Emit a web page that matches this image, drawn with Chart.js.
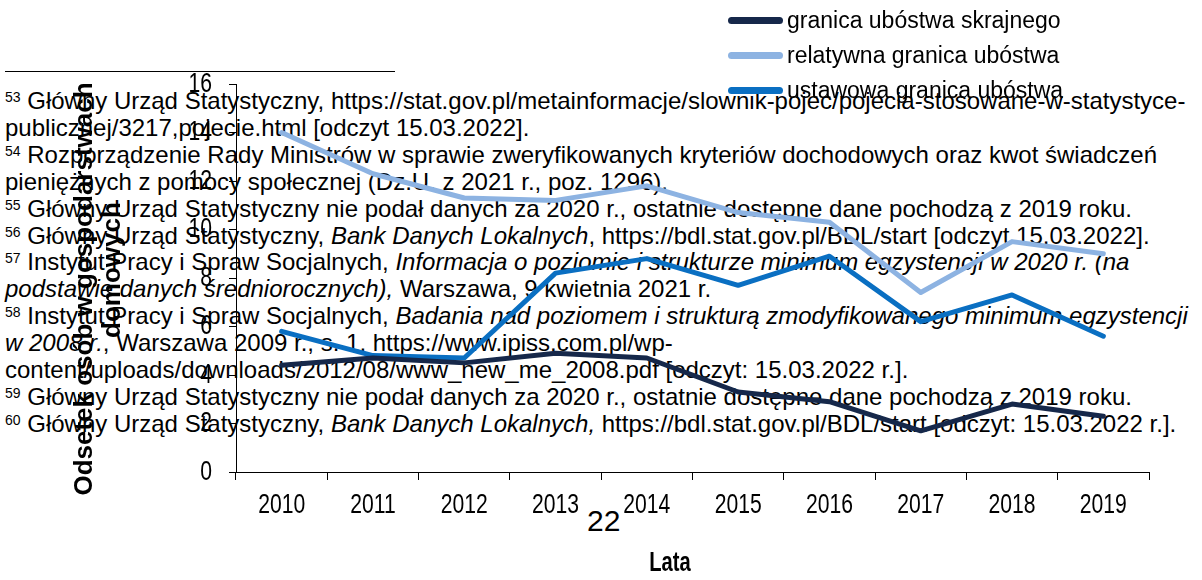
<!DOCTYPE html>
<html lang="pl">
<head>
<meta charset="utf-8">
<title>Granice ubóstwa 2010-2019</title>
<script src="https://cdn.jsdelivr.net/npm/chart.js@4.4.1/dist/chart.umd.min.js"></script>
<style>
    html, body { margin: 0; padding: 0; background: #fff; }
    #wrap { position: relative; width: 1202px; height: 580px; overflow: hidden; }
    #rule { position: absolute; left: 5px; top: 71px; width: 390px; border-top: 1px solid #000; }
    #notes {
        position: absolute; left: 5px; top: 88px;
        font: 24px "Liberation Sans", Arial, sans-serif;
        line-height: 26.9px; white-space: nowrap; color: #000;
    }
    #notes sup { font-size: 14px; line-height: 0; vertical-align: baseline; position: relative; top: -7px; }
    #page { position: absolute; left: 587px; top: 506px; font: 30px/30px "Liberation Sans", Arial, sans-serif; }
    #chartBox { position: absolute; left: 0; top: 0; width: 1202px; height: 580px; }
    #legend { position: absolute; left: 728px; top: 3px; font: 23px "Liberation Sans", Arial, sans-serif; }
    #legend div { height: 35px; display: flex; align-items: center; }
    #legend span.swatch { display: inline-block; width: 55px; height: 7px; border-radius: 3.5px; margin-right: 4px; }
</style>
</head>
<body>
<div id="wrap">
    <div id="rule"></div>
    <div id="notes">
        <sup>53</sup> Główny Urząd Statystyczny, https://stat.gov.pl/metainformacje/slownik-pojec/pojecia-stosowane-w-statystyce-<br>
        publicznej/3217,pojecie.html [odczyt 15.03.2022].<br>
        <sup>54</sup> Rozporządzenie Rady Ministrów w sprawie zweryfikowanych kryteriów dochodowych oraz kwot świadczeń<br>
        pieniężnych z pomocy społecznej (Dz.U. z 2021 r., poz. 1296).<br>
        <sup>55</sup> Główny Urząd Statystyczny nie podał danych za 2020 r., ostatnie dostępne dane pochodzą z 2019 roku.<br>
        <sup>56</sup> Główny Urząd Statystyczny, <i>Bank Danych Lokalnych</i>, https://bdl.stat.gov.pl/BDL/start [odczyt 15.03.2022].<br>
        <sup>57</sup> Instytut Pracy i Spraw Socjalnych, <i>Informacja o poziomie i strukturze minimum egzystencji w 2020 r. (na</i><br>
        <i>podstawie danych średniorocznych),</i> Warszawa, 9 kwietnia 2021 r.<br>
        <sup>58</sup> Instytut Pracy i Spraw Socjalnych, <i>Badania nad poziomem i strukturą zmodyfikowanego minimum egzystencji</i><br>
        <i>w 2008 r.</i>, Warszawa 2009 r., s. 1, https://www.ipiss.com.pl/wp-<br>
        content/uploads/downloads/2012/08/www_new_me_2008.pdf [odczyt: 15.03.2022 r.].<br>
        <sup>59</sup> Główny Urząd Statystyczny nie podał danych za 2020 r., ostatnie dostępne dane pochodzą z 2019 roku.<br>
        <sup>60</sup> Główny Urząd Statystyczny, <i>Bank Danych Lokalnych,</i> https://bdl.stat.gov.pl/BDL/start [odczyt: 15.03.2022 r.].
    </div>
    <div id="page">22</div>
    <div id="chartBox"><canvas id="povertyChart" width="1202" height="580"></canvas></div>
    <div id="legend"></div>
</div>

<script>
    // Data
    const years = ['2010', '2011', '2012', '2013', '2014', '2015', '2016', '2017', '2018', '2019'];
    const skrajne = [4.4, 4.7, 4.5, 4.9, 4.7, 3.3, 2.9, 1.7, 2.8, 2.3];
    const relatywna = [14.0, 12.3, 11.3, 11.2, 11.8, 10.7, 10.3, 7.4, 9.5, 9.0];
    const ustawowa = [5.8, 4.8, 4.7, 8.2, 8.8, 7.7, 8.9, 6.2, 7.3, 5.6];
    const seriesNames = ['granica ubóstwa skrajnego', 'relatywna granica ubóstwa', 'ustawowa granica ubóstwa'];
    const seriesColors = ['#16284a', '#8db3e2', '#0a6fc2'];
    const yTitle = ['Odsetek osób w gospodarstwach', 'domowych'];
    const xTitle = 'Lata';

    const sans = '"Liberation Sans", Arial, sans-serif';
    const squeeze = 0.755; // the chart's own texts are drawn tall and narrow

    function drawSqueezed(ctx, text, x, y, sx) {
        ctx.save();
        ctx.translate(x, y);
        ctx.scale(sx, 1);
        ctx.fillText(text, 0, 0);
        ctx.restore();
    }

    // Tick labels and axis titles, drawn by hand
    const chartTexts = {
        id: 'chartTexts',
        afterDraw(chart) {
            const ctx = chart.ctx;
            const xs = chart.scales.x;
            const ys = chart.scales.y;
            ctx.save();
            ctx.fillStyle = '#000';
            ctx.font = '28px ' + sans;
            ctx.textBaseline = 'middle';
            ctx.textAlign = 'center';
            xs.ticks.forEach(function (t, i) {
                drawSqueezed(ctx, xs.getLabelForValue(t.value), xs.getPixelForTick(i), xs.top + 33, squeeze);
            });
            ctx.textAlign = 'right';
            ys.ticks.forEach(function (t, i) {
                drawSqueezed(ctx, String(t.value), ys.right - 24, ys.getPixelForTick(i), squeeze);
            });

            ctx.textAlign = 'center';
            ctx.font = 'bold 28px ' + sans;
            drawSqueezed(ctx, xTitle, 670, 563, 0.72);

            ctx.textBaseline = 'alphabetic';
            ctx.font = 'bold 26px ' + sans;
            ctx.save();
            ctx.translate(92, 289);
            ctx.rotate(-Math.PI / 2);
            ctx.fillText(yTitle[0], 0, 0);
            ctx.restore();
            ctx.save();
            ctx.translate(120, 270);
            ctx.rotate(-Math.PI / 2);
            ctx.fillText(yTitle[1], 0, 0);
            ctx.restore();
            ctx.restore();
        }
    };

    const datasets = [skrajne, relatywna, ustawowa].map(function (values, i) {
        return {
            label: seriesNames[i],
            data: values,
            borderColor: seriesColors[i],
            backgroundColor: seriesColors[i],
            borderWidth: 5,
            pointRadius: 0,
            tension: 0,
            borderCapStyle: 'round',
            borderJoinStyle: 'round'
        };
    });

    new Chart(document.getElementById('povertyChart'), {
        type: 'line',
        data: { labels: years, datasets: datasets },
        options: {
            responsive: false,
            animation: false,
            layout: { padding: { top: 84, right: 53, left: 0, bottom: 0 } },
            plugins: {
                legend: { display: false },
                tooltip: { enabled: false }
            },
            scales: {
                x: {
                    offset: true,
                    grid: { offset: true, drawOnChartArea: false, color: '#000', tickLength: 8 },
                    border: { color: '#000', width: 1 },
                    ticks: { display: false },
                    afterFit(scale) { scale.height = 108; }
                },
                y: {
                    min: 0,
                    max: 16,
                    ticks: { stepSize: 2, display: false },
                    grid: { drawOnChartArea: false, color: '#000', tickLength: 7 },
                    border: { color: '#000', width: 1 },
                    afterFit(scale) { scale.width = 236; }
                }
            }
        },
        plugins: [chartTexts]
    });

    // Legend stacked vertically, top right
    const legend = document.getElementById('legend');
    seriesNames.forEach(function (name, i) {
        const row = document.createElement('div');
        row.innerHTML = '<span class="swatch" style="background:' + seriesColors[i] + '"></span>' + name;
        legend.appendChild(row);
    });
</script>
</body>
</html>
